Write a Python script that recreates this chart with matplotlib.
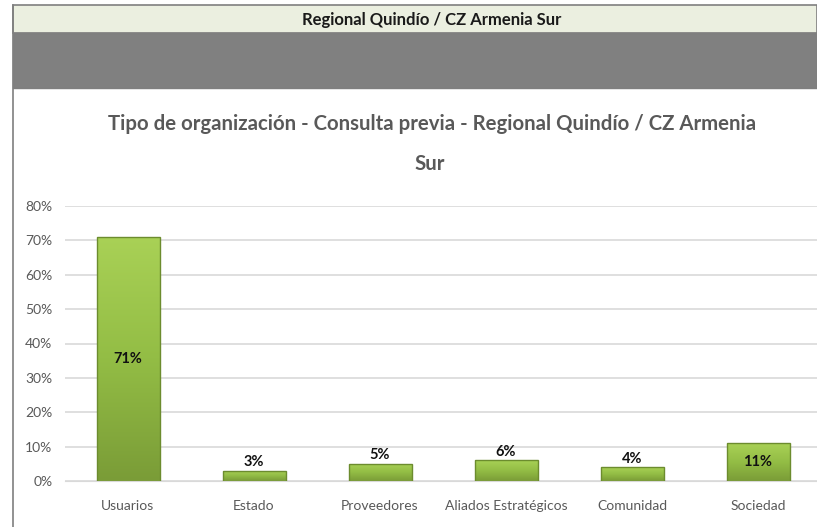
import numpy as np
import matplotlib
matplotlib.use('Agg')
import matplotlib.pyplot as plt
from matplotlib.patches import Rectangle
from matplotlib.colors import LinearSegmentedColormap

categories = ['Usuarios', 'Estado', 'Proveedores', 'Aliados Estratégicos', 'Comunidad', 'Sociedad']
values = [0.71, 0.03, 0.05, 0.06, 0.04, 0.11]
labels = ['71%', '3%', '5%', '6%', '4%', '11%']
yticks = [0, 0.1, 0.2, 0.3, 0.4, 0.5, 0.6, 0.7, 0.8]

header = 'Regional Quindío / CZ Armenia Sur'
title_1 = 'Tipo de organización - Consulta previa - Regional Quindío / CZ Armenia'
title_2 = 'Sur'

plt.rcParams['font.family'] = ['Lato', 'DejaVu Sans']

W, H = 817, 527
fig = plt.figure(figsize=(W / 100, H / 100), dpi=100)
fig.patch.set_facecolor('white')

def fx(px):
    return px / W

def fy(py):
    return 1 - py / H

# header bands
fig.add_artist(Rectangle((fx(13), fy(33)), fx(817 - 13), (33 - 5) / H,
                         facecolor='#ebefe0', edgecolor='#7f7f7f', lw=1.2,
                         transform=fig.transFigure))
fig.add_artist(Rectangle((fx(13), fy(88)), fx(817 - 13), (88 - 33) / H,
                         facecolor='#808080', edgecolor='#7f7f7f', lw=1,
                         transform=fig.transFigure))
fig.add_artist(plt.Line2D([fx(13), fx(13)], [0, fy(5)], color='#7f7f7f', lw=1.2,
                          transform=fig.transFigure))
fig.text(fx(432), fy(20), header, ha='center', va='center', fontsize=12,
         fontweight='bold', color='#1a1a1a')

fig.text(fx(432), fy(124), title_1, ha='center', va='center',
         fontsize=14.7, fontweight='bold', color='#595959')
fig.text(fx(430), fy(164), title_2, ha='center', va='center',
         fontsize=14.7, fontweight='bold', color='#595959')

ax = fig.add_axes([fx(65), 1 - 481 / H, (821 - 65) / W, (481 - 206) / H])
ax.set_facecolor('none')
x = np.arange(len(categories))

ax.set_yticks(yticks)
ax.set_yticklabels(['{:.0f}%'.format(t * 100) for t in yticks])
ax.yaxis.grid(True, color='#d9d9d9', lw=1.2)
ax.set_axisbelow(True)
for s in ax.spines.values():
    s.set_visible(False)
ax.spines['bottom'].set_visible(True)
ax.spines['bottom'].set_color('#d9d9d9')
ax.tick_params(length=0, labelsize=10, colors='#595959')
ax.tick_params(axis='y', pad=9)
ax.set_xticks(x)
ax.set_xticklabels(categories)
ax.tick_params(axis='x', pad=14)

cmap = LinearSegmentedColormap.from_list('g', ['#7a9c37', '#93bd45', '#a9d156'])
bars = ax.bar(x, values, width=0.5, color='none', edgecolor='#6c8c2e', lw=1, zorder=3)
grad = np.linspace(0, 1, 256).reshape(-1, 1)
for b in bars:
    x0, y0 = b.get_x(), b.get_y()
    im = ax.imshow(grad, cmap=cmap, origin='lower', aspect='auto',
                   extent=[x0, x0 + b.get_width(), y0, y0 + b.get_height()], zorder=2)
    im.set_clip_path(b)
ax.set_xlim(-0.5, len(categories) - 0.5)
ax.set_ylim(0, 0.8)

for i, (v, lab) in enumerate(zip(values, labels)):
    if v > 0.08:
        ax.text(i, v / 2, lab, ha='center', va='center', fontsize=10.5,
                fontweight='bold', color='#111111', zorder=4)
    else:
        ax.text(i, v + 0.004, lab, ha='center', va='bottom', fontsize=10.5,
                fontweight='bold', color='#111111', zorder=4)

fig.savefig('out.png', dpi=100)
